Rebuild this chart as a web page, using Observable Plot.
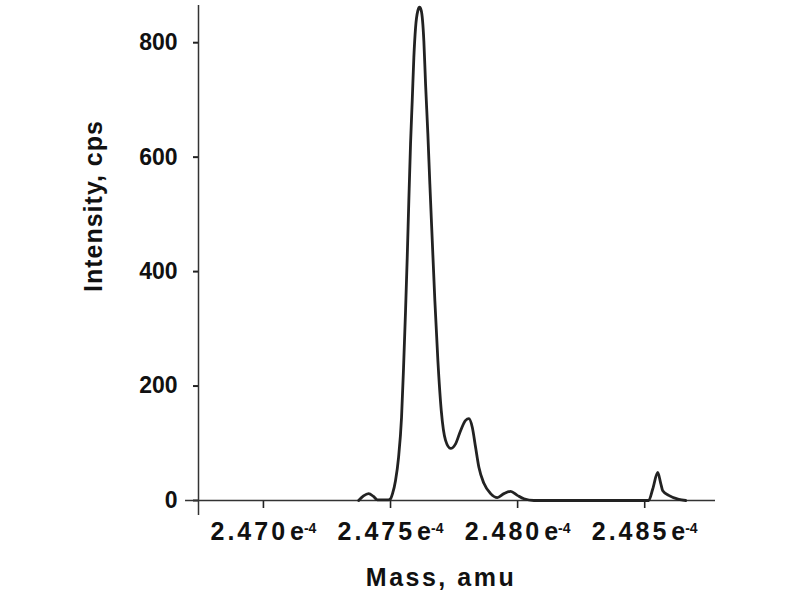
<!DOCTYPE html>
<html><head><meta charset="utf-8">
<script src="https://cdn.jsdelivr.net/npm/d3@7"></script>
<script src="https://cdn.jsdelivr.net/npm/@observablehq/plot@0.6"></script>
<style>body{margin:0;background:#fff}</style>
</head><body><div id="chart"></div>
<script>
// Mass in units of 1e-4 amu (axis labels read "2.470 e-4" etc.)
const massE4 = [
  2.47406, 2.474252, 2.47445, 2.474646, 2.47480, 2.475236, 2.475315, 2.475394,
  2.475512, 2.475630, 2.475748, 2.475827, 2.475906, 2.475972, 2.476035, 2.476102,
  2.476169, 2.476232, 2.476299, 2.476390, 2.476457, 2.476524, 2.476626, 2.476693,
  2.476783, 2.476862, 2.476957, 2.477059, 2.477177, 2.477311, 2.477480, 2.477677,
  2.477874, 2.478071, 2.478268, 2.478398, 2.478531, 2.478661, 2.478791, 2.478988,
  2.479252, 2.479516, 2.479776, 2.480039, 2.480303, 2.480563, 2.480957,
  2.485472, 2.485630, 2.485827, 2.485945, 2.486024, 2.486260, 2.486654, 2.486929
];
const intensity = [
  0, 8, 12, 7, 1, 1, 3, 12,
  35, 75, 145, 232, 332, 425, 524, 623,
  699, 774, 826, 856, 862, 856, 803, 728,
  641, 553, 454, 349, 245, 157, 105, 91,
  99, 122, 140, 143, 128, 93, 58, 30,
  12, 5, 12, 16, 9, 3, 0,
  0, 20, 49, 30, 17, 9, 2, 0
];
const xTicks = [2.470, 2.475, 2.480, 2.485];
const xTickLabels = ["2.470", "2.475", "2.480", "2.485"];
const xExponent = "-4";
const yTicks = [0, 200, 400, 600, 800];
const xTitle = "Mass, amu";
const yTitle = "Intensity, cps";

const data = massE4.map((m, i) => ({mass: m, intensity: intensity[i]}));
const xDomain = [2.46776, 2.4881];
const yDomain = [0, 865];
const xAxisStart = 2.46725;   // x-axis line overshoots left of the y-axis
const yAxisStart = -26;       // y-axis line overshoots below the x-axis

const chart = Plot.plot({
  width: 800, height: 600,
  marginLeft: 198, marginRight: 85, marginTop: 5, marginBottom: 100,
  style: {fontFamily: "'Liberation Sans', Arial, sans-serif", fontWeight: "bold", color: "#111", background: "#fff"},
  x: {domain: xDomain},
  y: {domain: yDomain},
  marks: [
    Plot.axisY({ticks: yTicks, tickSize: 5, tickPadding: 16, fontSize: 23, strokeWidth: 2, stroke: "#222", label: null, tickFormat: d => String(d)}),
    Plot.axisX({ticks: xTicks, tickSize: 8, tickPadding: 14, fontSize: 25, strokeWidth: 1.6, stroke: "#222", label: null, dx: 8,
      tickFormat: d => xTickLabels[xTicks.indexOf(d)]}),
    Plot.ruleX([xDomain[0]], {y1: yAxisStart, y2: yDomain[1], stroke: "#333", strokeWidth: 1.5, clip: false}),
    Plot.ruleY([0], {x1: xAxisStart, x2: xDomain[1], stroke: "#333", strokeWidth: 1.5, clip: false}),
    Plot.line(data, {x: "mass", y: "intensity", curve: "monotone-x", stroke: "#222", strokeWidth: 2.8}),
    Plot.text([xTitle], {text: d => d, frameAnchor: "bottom", dx: -16, dy: 85, fontSize: 25, fill: "#111"}),
    Plot.text([yTitle], {text: d => d, frameAnchor: "left", rotate: -90, dx: -105, dy: 39, fontSize: 25, fill: "#111"})
  ]
});

// superscript exponent on x tick labels
d3.select(chart).selectAll('g[aria-label="x-axis tick label"] text').each(function() {
  const t = d3.select(this);
  const base = t.text();
  t.text(base).attr("letter-spacing", 3);
  t.append("tspan").attr("dx", 2).attr("letter-spacing", 0).text("e");
  t.append("tspan").attr("dy", "-0.5em").attr("font-size", 14).attr("letter-spacing", 0).text(xExponent);
});
d3.select(chart).selectAll("text").filter(function() { return this.textContent === xTitle; }).attr("letter-spacing", 2.5);
d3.select(chart).selectAll("text").filter(function() { return this.textContent === yTitle; }).attr("letter-spacing", 1);

document.getElementById("chart").appendChild(chart);
</script>
</body></html>
